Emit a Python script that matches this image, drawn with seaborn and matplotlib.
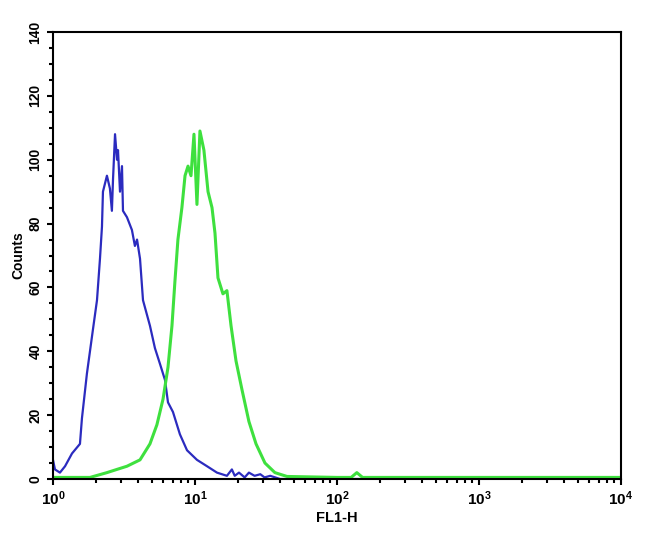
import numpy as np
import pandas as pd
import matplotlib
matplotlib.use("Agg")
import matplotlib.pyplot as plt
import seaborn as sns
from matplotlib.ticker import MultipleLocator, LogLocator, NullFormatter

# blue histogram (control): log10(FL1-H) and counts
blue_log = [0.0, 0.014, 0.049, 0.085, 0.134, 0.19, 0.204, 0.239, 0.282, 0.31,
            0.331, 0.345, 0.352, 0.38, 0.401, 0.415, 0.423, 0.437, 0.451, 0.458,
            0.472, 0.486, 0.493, 0.521, 0.556, 0.577, 0.592, 0.613, 0.634, 0.683,
            0.718, 0.754, 0.789, 0.81, 0.845, 0.894, 0.944, 1.014, 1.085, 1.155,
            1.225, 1.26, 1.28, 1.31, 1.35, 1.38, 1.42, 1.46, 1.49, 1.53, 1.6,
            2.0, 3.0, 4.0]
blue_counts = [6, 3, 2, 4, 8, 11, 19, 33, 47, 56,
               69, 79, 90, 95, 91, 84, 94, 108, 100, 103,
               90, 98, 84, 82, 78, 73, 75, 69, 56, 48,
               41, 36, 31, 24, 21, 14, 9, 6, 4, 2,
               1, 3, 1, 2, 0.5, 2, 1, 1.5, 0.5, 1, 0,
               0, 0, 0]

# green histogram (antibody stained)
green_log = [0.0, 0.261, 0.38, 0.45, 0.521, 0.613, 0.683, 0.732, 0.775, 0.81,
             0.838, 0.859, 0.88, 0.908, 0.93, 0.951, 0.972, 0.993, 1.014, 1.035,
             1.063, 1.092, 1.12, 1.141, 1.162, 1.197, 1.225, 1.254, 1.289, 1.331,
             1.38, 1.43, 1.493, 1.563, 1.648, 2.0, 2.1, 2.14, 2.18, 2.5, 3.0, 4.0]
green_counts = [0.5, 0.5, 2, 3, 4, 6, 11, 17, 25, 35,
                48, 62, 75, 85, 95, 98, 95, 108, 86, 109,
                103, 90, 85, 77, 63, 58, 59, 48, 37, 28,
                18, 11, 5, 2, 0.8, 0.5, 0.5, 2, 0.5, 0.5, 0.5, 0.5]

blue_df = pd.DataFrame({"FL1-H": 10 ** np.array(blue_log), "Counts": blue_counts})
green_df = pd.DataFrame({"FL1-H": 10 ** np.array(green_log), "Counts": green_counts})

sns.set_style("ticks")
plt.rcParams["font.family"] = ["Liberation Sans", "DejaVu Sans"]
plt.rcParams["font.weight"] = "bold"
plt.rcParams["text.color"] = "black"
plt.rcParams["axes.labelcolor"] = "black"
plt.rcParams["xtick.color"] = "black"
plt.rcParams["ytick.color"] = "black"
plt.rcParams["mathtext.fontset"] = "custom"
plt.rcParams["mathtext.rm"] = "Liberation Sans:bold"
plt.rcParams["mathtext.bf"] = "Liberation Sans:bold"
plt.rcParams["mathtext.default"] = "bf"

fig = plt.figure(figsize=(6.5, 5.33), dpi=100)
ax = fig.add_axes([0.0815, 0.1013, 0.8738, 0.8386])

sns.lineplot(data=blue_df, x="FL1-H", y="Counts", color="#2b2bbf",
             linewidth=1.6, sort=False, estimator=None, ax=ax)
sns.lineplot(data=green_df, x="FL1-H", y="Counts", color="#3ee03e",
             linewidth=2.2, sort=False, estimator=None, ax=ax)

ax.set_xscale("log")
ax.set_xlim(1, 10000)
ax.set_ylim(0, 140)
ax.set_xticks([1, 10, 100, 1000, 10000])
ax.set_xticklabels(["$10^{0}$", "$10^{1}$", "$10^{2}$", "$10^{3}$", "$10^{4}$"])
ax.xaxis.set_minor_locator(LogLocator(base=10, subs=np.arange(2, 10)))
ax.xaxis.set_minor_formatter(NullFormatter())
ax.yaxis.set_major_locator(MultipleLocator(20))
ax.yaxis.set_minor_locator(MultipleLocator(5))

ax.tick_params(axis="both", which="major", length=4, width=1.5, labelsize=11)
ax.tick_params(axis="both", which="minor", length=3, width=1.5)
ax.tick_params(axis="y", labelsize=10)
for lab in ax.get_yticklabels():
    lab.set_rotation(90)
    lab.set_va("center")

for sp in ax.spines.values():
    sp.set_visible(True)
    sp.set_color("black")
    sp.set_linewidth(1.5)

ax.set_xlabel("FL1-H", fontsize=10.5, fontweight="bold", labelpad=2)
ax.set_ylabel("Counts", fontsize=10, fontweight="bold", labelpad=2)

fig.savefig("out.png", dpi=100)
